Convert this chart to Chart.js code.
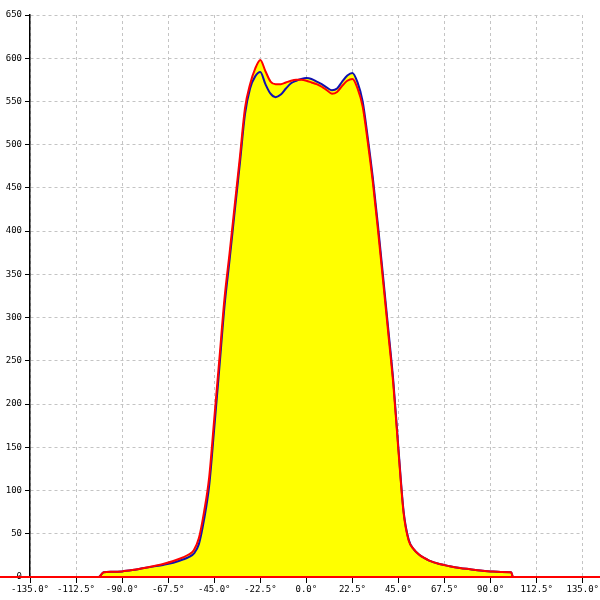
<!DOCTYPE html>
<html>
<head>
<meta charset="utf-8">
<script src="https://cdn.jsdelivr.net/npm/chart.js@4/dist/chart.umd.min.js"></script>
<style>
  html, body { margin: 0; padding: 0; background: #fff; }
  #wrap { width: 600px; height: 600px; }
</style>
</head>
<body>
<div id="wrap"><canvas id="chart" width="600" height="600"></canvas></div>
<script>
// angle (deg) samples and the two measured curves
const angles = [
  -135, -101.5, -99, -95, -90, -85, -80, -75, -70, -65, -60, -57.5, -55, -52.5, -50,
  -47.5, -45, -42.5, -40, -37.5, -35, -32.5, -30, -27.5, -25, -22.5, -20, -17.5, -15,
  -12.5, -10, -7.5, -5, -2.5, 0, 2.5, 5, 7.5, 10, 12.5, 15, 17.5, 20, 22.5, 25, 27.5,
  30, 32.5, 35, 37.5, 40, 42.5, 45, 47.5, 50, 52.5, 55, 57.5, 60, 65, 70, 75, 80, 85,
  90, 95, 100, 101, 135
];
const redValues = [
  0, 0, 5.5, 6, 6.5, 8, 10, 12.5, 15, 18.5, 23, 26, 31, 45, 75,
  115, 183, 252, 322, 375, 430, 485, 542, 570, 588, 598, 585, 573, 570,
  570, 572, 574, 575, 575, 574, 572, 570, 567, 563, 559, 561, 568, 574, 576, 565, 544,
  503, 456, 401, 342, 282, 222, 145, 74, 42, 32, 26, 22, 19, 15, 12.5, 10.5, 9, 7.5,
  6.5, 5.8, 5.4, 0, 0
];
const blueValues = [
  0, 0, 5.5, 6, 6.5, 8, 10, 12, 14, 16.5, 20.5, 23, 27, 38, 66,
  105, 172, 242, 313, 367, 423, 478, 535, 565, 579, 584, 570, 559, 555,
  558, 565, 571, 574, 576, 577, 576, 573, 570, 566, 563, 565, 573, 580, 583, 572, 550,
  508, 461, 406, 347, 287, 226, 148, 76, 43, 32, 26, 22, 19, 15, 12.5, 10.5, 9, 7.5,
  6.5, 5.8, 5.4, 0, 0
];
const xTicks = [-135, -112.5, -90, -67.5, -45, -22.5, 0, 22.5, 45, 67.5, 90, 112.5, 135];
const yTicks = [0, 50, 100, 150, 200, 250, 300, 350, 400, 450, 500, 550, 600, 650];

const toPoints = (vals) => angles.map((a, i) => ({ x: a, y: vals[i] }));

// red zero line across the whole canvas
const zeroLine = {
  id: "zeroLine",
  afterDatasetsDraw(chart) {
    const ctx = chart.ctx;
    const y = chart.scales.y.getPixelForValue(0);
    ctx.save();
    ctx.strokeStyle = "#ff0000";
    ctx.lineWidth = 2;
    ctx.beginPath();
    ctx.moveTo(0, y);
    ctx.lineTo(chart.width, y);
    ctx.stroke();
    ctx.restore();
  },
};

const tickFont = { family: "'DejaVu Sans Mono', monospace", size: 9 };

new Chart(document.getElementById("chart"), {
  type: "line",
  data: {
    datasets: [
      {
        label: "red",
        data: toPoints(redValues),
        borderColor: "#ff0000",
        backgroundColor: "#ffff00",
        borderWidth: 2,
        fill: "origin",
        pointRadius: 0,
        cubicInterpolationMode: "monotone",
      },
      {
        label: "blue",
        data: toPoints(blueValues),
        borderColor: "#1010b0",
        backgroundColor: "#ffff00",
        borderWidth: 2,
        fill: "origin",
        pointRadius: 0,
        cubicInterpolationMode: "monotone",
      },
    ],
  },
  options: {
    responsive: false,
    animation: false,
    layout: { padding: { top: 15, right: 15, left: 0, bottom: 0 } },
    plugins: {
      legend: { display: false },
      tooltip: { enabled: false },
      filler: { drawTime: "beforeDatasetsDraw" },
    },
    scales: {
      x: {
        type: "linear",
        min: -135,
        max: 135,
        afterBuildTicks: (s) => { s.ticks = xTicks.map((v) => ({ value: v })); },
        afterFit: (s) => { s.height = 23; },
        ticks: {
          autoSkip: false,
          maxRotation: 0,
          padding: 1,
          color: "#000",
          font: tickFont,
          callback: (v) => Number(v).toFixed(1) + "°",
        },
        grid: { color: "#c4c4c4", tickColor: "#000", tickLength: 6, tickBorderDash: [] },
        border: { color: "#000", dash: [3, 3] },
      },
      y: {
        min: 0,
        max: 650,
        afterBuildTicks: (s) => { s.ticks = yTicks.map((v) => ({ value: v })); },
        afterFit: (s) => { s.width = 30; },
        ticks: {
          autoSkip: false,
          padding: 3,
          color: "#000",
          font: tickFont,
          callback: (v) => String(v),
        },
        grid: { color: "#c4c4c4", tickColor: "#000", tickLength: 5, tickBorderDash: [] },
        border: { color: "#000", width: 1.5, dash: [3, 3] },
      },
    },
  },
  plugins: [zeroLine],
});
</script>
</body>
</html>
